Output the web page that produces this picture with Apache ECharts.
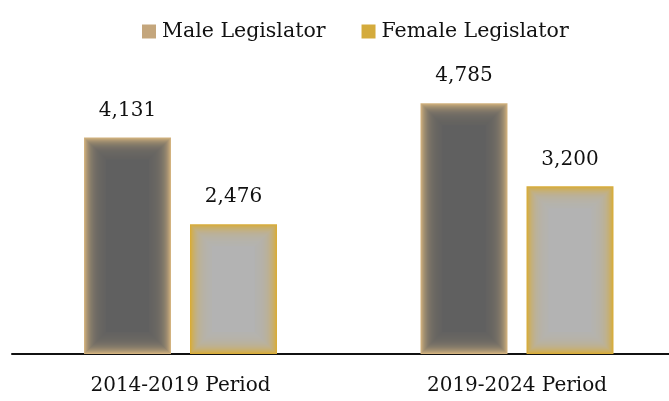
<!DOCTYPE html>
<html>
<head>
<meta charset="utf-8">
<script src="https://cdn.jsdelivr.net/npm/echarts@6/dist/echarts.min.js"></script>
<style>html,body{margin:0;padding:0;background:#fff;}#c{width:669px;height:401px;}</style>
</head>
<body>
<div id="c"></div>
<script>
const categories = ['2014-2019 Period', '2019-2024 Period'];
const seriesNames = ['Male Legislator', 'Female Legislator'];
const maleValues = [4131, 4785];
const femaleValues = [2476, 3200];

const FONT = 'DejaVu Serif';
const styles = [
  { legend: '#c4a67c', edge: [210, 178, 126], center: [96, 96, 96], offset: -0.1575 },
  { legend: '#d4ab3c', edge: [216, 172, 56], center: [179, 179, 179], offset: 0.1575 }
];

function lerp(a, b, t) {
  return 'rgb(' + a.map((v, i) => Math.round(v + (b[i] - v) * t)).join(',') + ')';
}

function makeRender(st) {
  return function (params, api) {
    const idx = api.value(0);
    const val = api.value(1);
    const top = api.coord([idx, val]);
    const base = api.coord([idx, 0]);
    const band = api.size([1, 0])[0];
    const w = band * 0.2585;
    const cx = top[0] + st.offset * band;
    const x0 = cx - w / 2;
    const y0 = top[1];
    const h = base[1] - top[1];
    const children = [];
    const N = 22;
    for (let i = 0; i <= N; i++) {
      const s = i === N ? 1 : 1 - Math.exp(-i / 6);
      children.push({
        type: 'rect',
        shape: { x: x0 + i, y: y0 + i, width: Math.max(w - 2 * i, 0), height: Math.max(h - 2 * i, 0) },
        style: { fill: lerp(st.edge, st.center, s) }
      });
    }
    children.push({
      type: 'text',
      style: {
        text: echarts.format.addCommas(val),
        x: cx, y: y0 - 17,
        align: 'center', verticalAlign: 'bottom',
        font: '20px "' + FONT + '"', fill: '#111'
      }
    });
    return { type: 'group', children: children };
  };
}

const chart = echarts.init(document.getElementById('c'));
chart.setOption({
  animation: false,
  backgroundColor: '#fff',
  legend: {
    data: seriesNames,
    left: 137, top: 16,
    icon: 'rect', itemWidth: 14, itemHeight: 14, itemGap: 36,
    textStyle: { fontFamily: FONT, fontSize: 20.5, color: '#111', padding: [0, 0, 0, 1] }
  },
  grid: [
    { left: 12, right: 0, top: 92, height: 262 },
    { left: 180.5, right: 152, top: 92, height: 262 }
  ],
  xAxis: [
    {
      type: 'category', data: categories, gridIndex: 0,
      axisLine: { lineStyle: { color: '#111', width: 2 } },
      axisTick: { show: false }, axisLabel: { show: false }
    },
    {
      type: 'category', data: categories, gridIndex: 1, boundaryGap: false,
      axisLine: { show: false }, axisTick: { show: false },
      axisLabel: { fontFamily: FONT, fontSize: 20, color: '#111', margin: 22 }
    }
  ],
  yAxis: [
    { type: 'value', min: 0, max: 5000, show: false, gridIndex: 0 },
    { type: 'value', min: 0, max: 5000, show: false, gridIndex: 1 }
  ],
  series: [
    { name: seriesNames[0], type: 'custom', renderItem: makeRender(styles[0]),
      xAxisIndex: 1, yAxisIndex: 1,
      itemStyle: { color: styles[0].legend },
      data: maleValues.map((v, i) => [i, v]) },
    { name: seriesNames[1], type: 'custom', renderItem: makeRender(styles[1]),
      xAxisIndex: 1, yAxisIndex: 1,
      itemStyle: { color: styles[1].legend },
      data: femaleValues.map((v, i) => [i, v]) }
  ]
});
</script>
</body>
</html>
